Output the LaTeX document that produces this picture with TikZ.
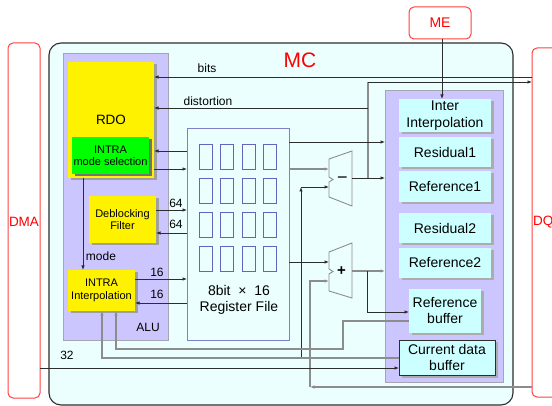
\documentclass[tikz,border=0pt]{standalone}
\usepackage{fontspec}
\setmainfont{Liberation Sans}
\usetikzlibrary{arrows.meta,shadows}
\definecolor{mcbg}{RGB}{236,255,255}
\definecolor{purp}{RGB}{204,198,255}
\definecolor{purpline}{RGB}{165,165,180}
\definecolor{cyb}{RGB}{204,255,255}
\definecolor{redl}{RGB}{255,64,64}
\definecolor{redt}{RGB}{255,0,0}
\definecolor{regline}{RGB}{128,128,200}
\definecolor{cellline}{RGB}{100,100,190}
\definecolor{dk}{RGB}{45,45,45}
\definecolor{gr}{RGB}{140,140,140}
\newcommand{\fs}[1]{\fontsize{#1}{#1}\selectfont}
\begin{document}
\begin{tikzpicture}[x=1pt,y=-1pt,
  box/.style={inner sep=0pt, outer sep=0pt, align=center},
  redbox/.style={box, draw=redl, line width=1pt, rounded corners=5pt},
  purpbox/.style={box, fill=purp, draw=purpline, line width=0.8pt},
  yelbox/.style={box, fill=yellow, font=\fs{11}, drop shadow={shadow xshift=2.5pt, shadow yshift=-2.5pt, fill=gray!75, opacity=1}},
  grnbox/.style={box, fill=green, font=\fs{11}, drop shadow={shadow xshift=2.5pt, shadow yshift=-2.5pt, fill=black!55, opacity=1}},
  cybox/.style={box, fill=cyb, font=\fs{14}, drop shadow={shadow xshift=2.5pt, shadow yshift=-2.5pt, fill=gray!65, opacity=1}},
  wire/.style={draw=dk, line width=0.7pt},
  gwire/.style={draw=gr, line width=1.1pt},
  arr/.style={-{Latex[length=4.5pt,width=3.5pt]}},
  lbl/.style={font=\fs{12}, inner sep=0pt, text=black},
  opshape/.style={draw=gr, line width=0.9pt, fill=mcbg}
]
\useasboundingbox (0,0) rectangle (552,406);

% outer red boxes
\node[redbox, minimum width=32pt, minimum height=355pt] (dma) at (24,220.5) {};
\node[text=redt, font=\fs{13.5}, inner sep=0pt] (dmalbl) at (24,222) {DMA};
\node[redbox, minimum width=43pt, minimum height=349pt] (dq) at (553.5,222.5) {};
\node[text=redt, font=\fs{13.5}, inner sep=0pt, anchor=west] (dqlbl) at (533,222) {DQ};
\node[redbox, minimum width=62pt, minimum height=32pt, font=\fs{14}, text=redt] (me) at (440,23) {ME};

% MC
\node[box, draw=dk, line width=1.1pt, fill=mcbg, rounded corners=12pt, minimum width=464pt, minimum height=362pt] (mc) at (281,224) {};
\node[text=redt, font=\fs{21}, inner sep=0pt] (mclbl) at (300,60) {MC};

% ALU
\node[purpbox, minimum width=105pt, minimum height=287pt] (alu) at (115.5,196.5) {};
\node[lbl] (alulbl) at (148,327) {ALU};
\node[yelbox, font=\fs{13.5}, minimum width=86pt, minimum height=116pt] (rdo) at (111,120) {RDO};
\node[grnbox, minimum width=77pt, minimum height=37pt] (ims) at (110.5,155.5) {INTRA\\[1pt]mode selection};
\node[yelbox, minimum width=67pt, minimum height=47pt] (df) at (122.5,219.5) {Deblocking\\[1.5pt]Filter};
\node[yelbox, minimum width=67pt, minimum height=41pt] (ii) at (101.5,290.5) {INTRA\\[1.5pt]Interpolation};

% register file
\node[box, fill=mcbg, draw=regline, line width=0.8pt, minimum width=102pt, minimum height=212pt] (reg) at (238,234) {};
\foreach \cx in {199,220,242,263}
  \foreach \cy in {144,178,212,246}
    \draw[cellline, line width=0.8pt] (\cx,\cy) rectangle ++(13,25);
\node[font=\fs{14}, align=center, inner sep=0pt] (reglbl) at (239,300) {8bit~~×~~16\\[2pt]Register File};

% right purple box
\node[purpbox, minimum width=118pt, minimum height=292pt] (rp) at (444,236) {};
\node[cybox, minimum width=92pt, minimum height=33pt] (inter) at (445,115.5) {Inter\\[3pt]Interpolation};
\node[cybox, minimum width=92pt, minimum height=30pt] (res1) at (445,152) {Residual1};
\node[cybox, minimum width=92pt, minimum height=31pt] (ref1) at (445,186.5) {Reference1};
\node[cybox, minimum width=92pt, minimum height=30pt] (res2) at (445,228) {Residual2};
\node[cybox, minimum width=92pt, minimum height=30pt] (ref2) at (445,263) {Reference2};
\node[cybox, minimum width=72pt, minimum height=44pt] (refbuf) at (445,311) {Reference\\[2pt]buffer};
\node[cybox, draw=dk, line width=0.8pt, minimum width=96pt, minimum height=35pt] (cdb) at (447,357.5) {Current data\\[2pt]buffer};

% subtractor and adder
\draw[opshape] (329,159) -- (352,151) -- (352,206) -- (329,197) -- (329,182) -- (333,179.5) -- (329,177) -- cycle;
\node[font=\fs{18}, inner sep=0pt] (minus) at (342.5,180) {−};
\draw[opshape] (329,252) -- (352,243) -- (352,298) -- (329,291) -- (329,274) -- (333,271.5) -- (329,269) -- cycle;
\node[font=\bfseries\fs{15}, inner sep=0pt] (plus) at (341.5,271) {+};
\coordinate (subin1) at (329,169);
\coordinate (subin2) at (329,187);
\coordinate (subout) at (352,178);
\coordinate (addin1) at (329,262);
\coordinate (addin2) at (329,281);
\coordinate (addout) at (352,271);

% level coordinates
\foreach \v in {77,82,108,142,151,169,210,233,279,303,312,321,349,358,368,387}
  \coordinate (y\v) at (0,\v);
\foreach \v in {83,102,116,301,310,343,367,368,442}
  \coordinate (x\v) at (\v,0);

% wires
\draw[wire,arr] (dq.west |- y77) -- (rdo.east |- y77);
\node[lbl] (bitslbl) at (207,68) {bits};
\draw[gwire] (x368 |- subout) -- (x368 |- y82);
\draw[wire,arr] (x368 |- y82) -- (dq.west |- y82);
\draw[wire,arr] (x368 |- y108) -- (rdo.east |- y108);
\node[lbl] (distlbl) at (208,101) {distortion};
\draw[wire,arr] (subout) -- (rp.west |- subout);

\draw[wire,arr] (reg.west |- y151) -- (rdo.east |- y151);
\draw[wire,arr] (rdo.east |- y169) -- (reg.west |- y169);
\draw[wire,arr] (rdo.south -| x83) -- (ii.north -| x83);
\node[lbl] (modelbl) at (101,256) {mode};
\draw[wire,arr] (df.east |- y210) -- (reg.west |- y210);
\node[lbl] (l64a) at (176,203) {64};
\draw[wire,arr] (reg.west |- y233) -- (df.east |- y233);
\node[lbl] (l64b) at (176,224) {64};
\draw[wire,arr] (ii.east |- y279) -- (reg.west |- y279);
\node[lbl] (l16a) at (157,272) {16};
\draw[wire,arr] (reg.west |- y303) -- (ii.east |- y303);
\node[lbl] (l16b) at (157,294) {16};

\draw[wire,arr] (reg.east |- y142) -- (rp.west |- y142);
\draw[gwire,arr] (reg.east |- subin1) -- (subin1);
\draw[wire,arr] (x301 |- y358) -- (x301 |- subin2);
\draw[wire,arr] (x301 |- subin2) -- (subin2);
\draw[wire,arr] (reg.east |- addin1) -- (addin1);
\draw[gwire,arr] (dq.west |- y387) -- (x310 |- y387);
\draw[gwire,arr] (x310 |- y387) -- (x310 |- addin2) -- (addin2);
\draw[gwire,arr] (addout) -- (rp.west |- addout);
\draw[wire,arr] (x367 |- addout) -- (x367 |- y312) -- (refbuf.west |- y312);
\draw[gwire,arr] (refbuf.west |- y321) -- (x343 |- y321) -- (x343 |- y349) -- (x116 |- y349) -- (ii.south -| x116);
\draw[gwire,arr] (cdb.west |- y358) -- (x102 |- y358) -- (ii.south -| x102);
\draw[wire,arr] (dma.east |- y368) -- (cdb.west |- y368);
\node[lbl] (l32) at (67,355) {32};
\draw[wire,arr] (me.south -| x442) -- (inter.north -| x442);
\end{tikzpicture}
\end{document}
